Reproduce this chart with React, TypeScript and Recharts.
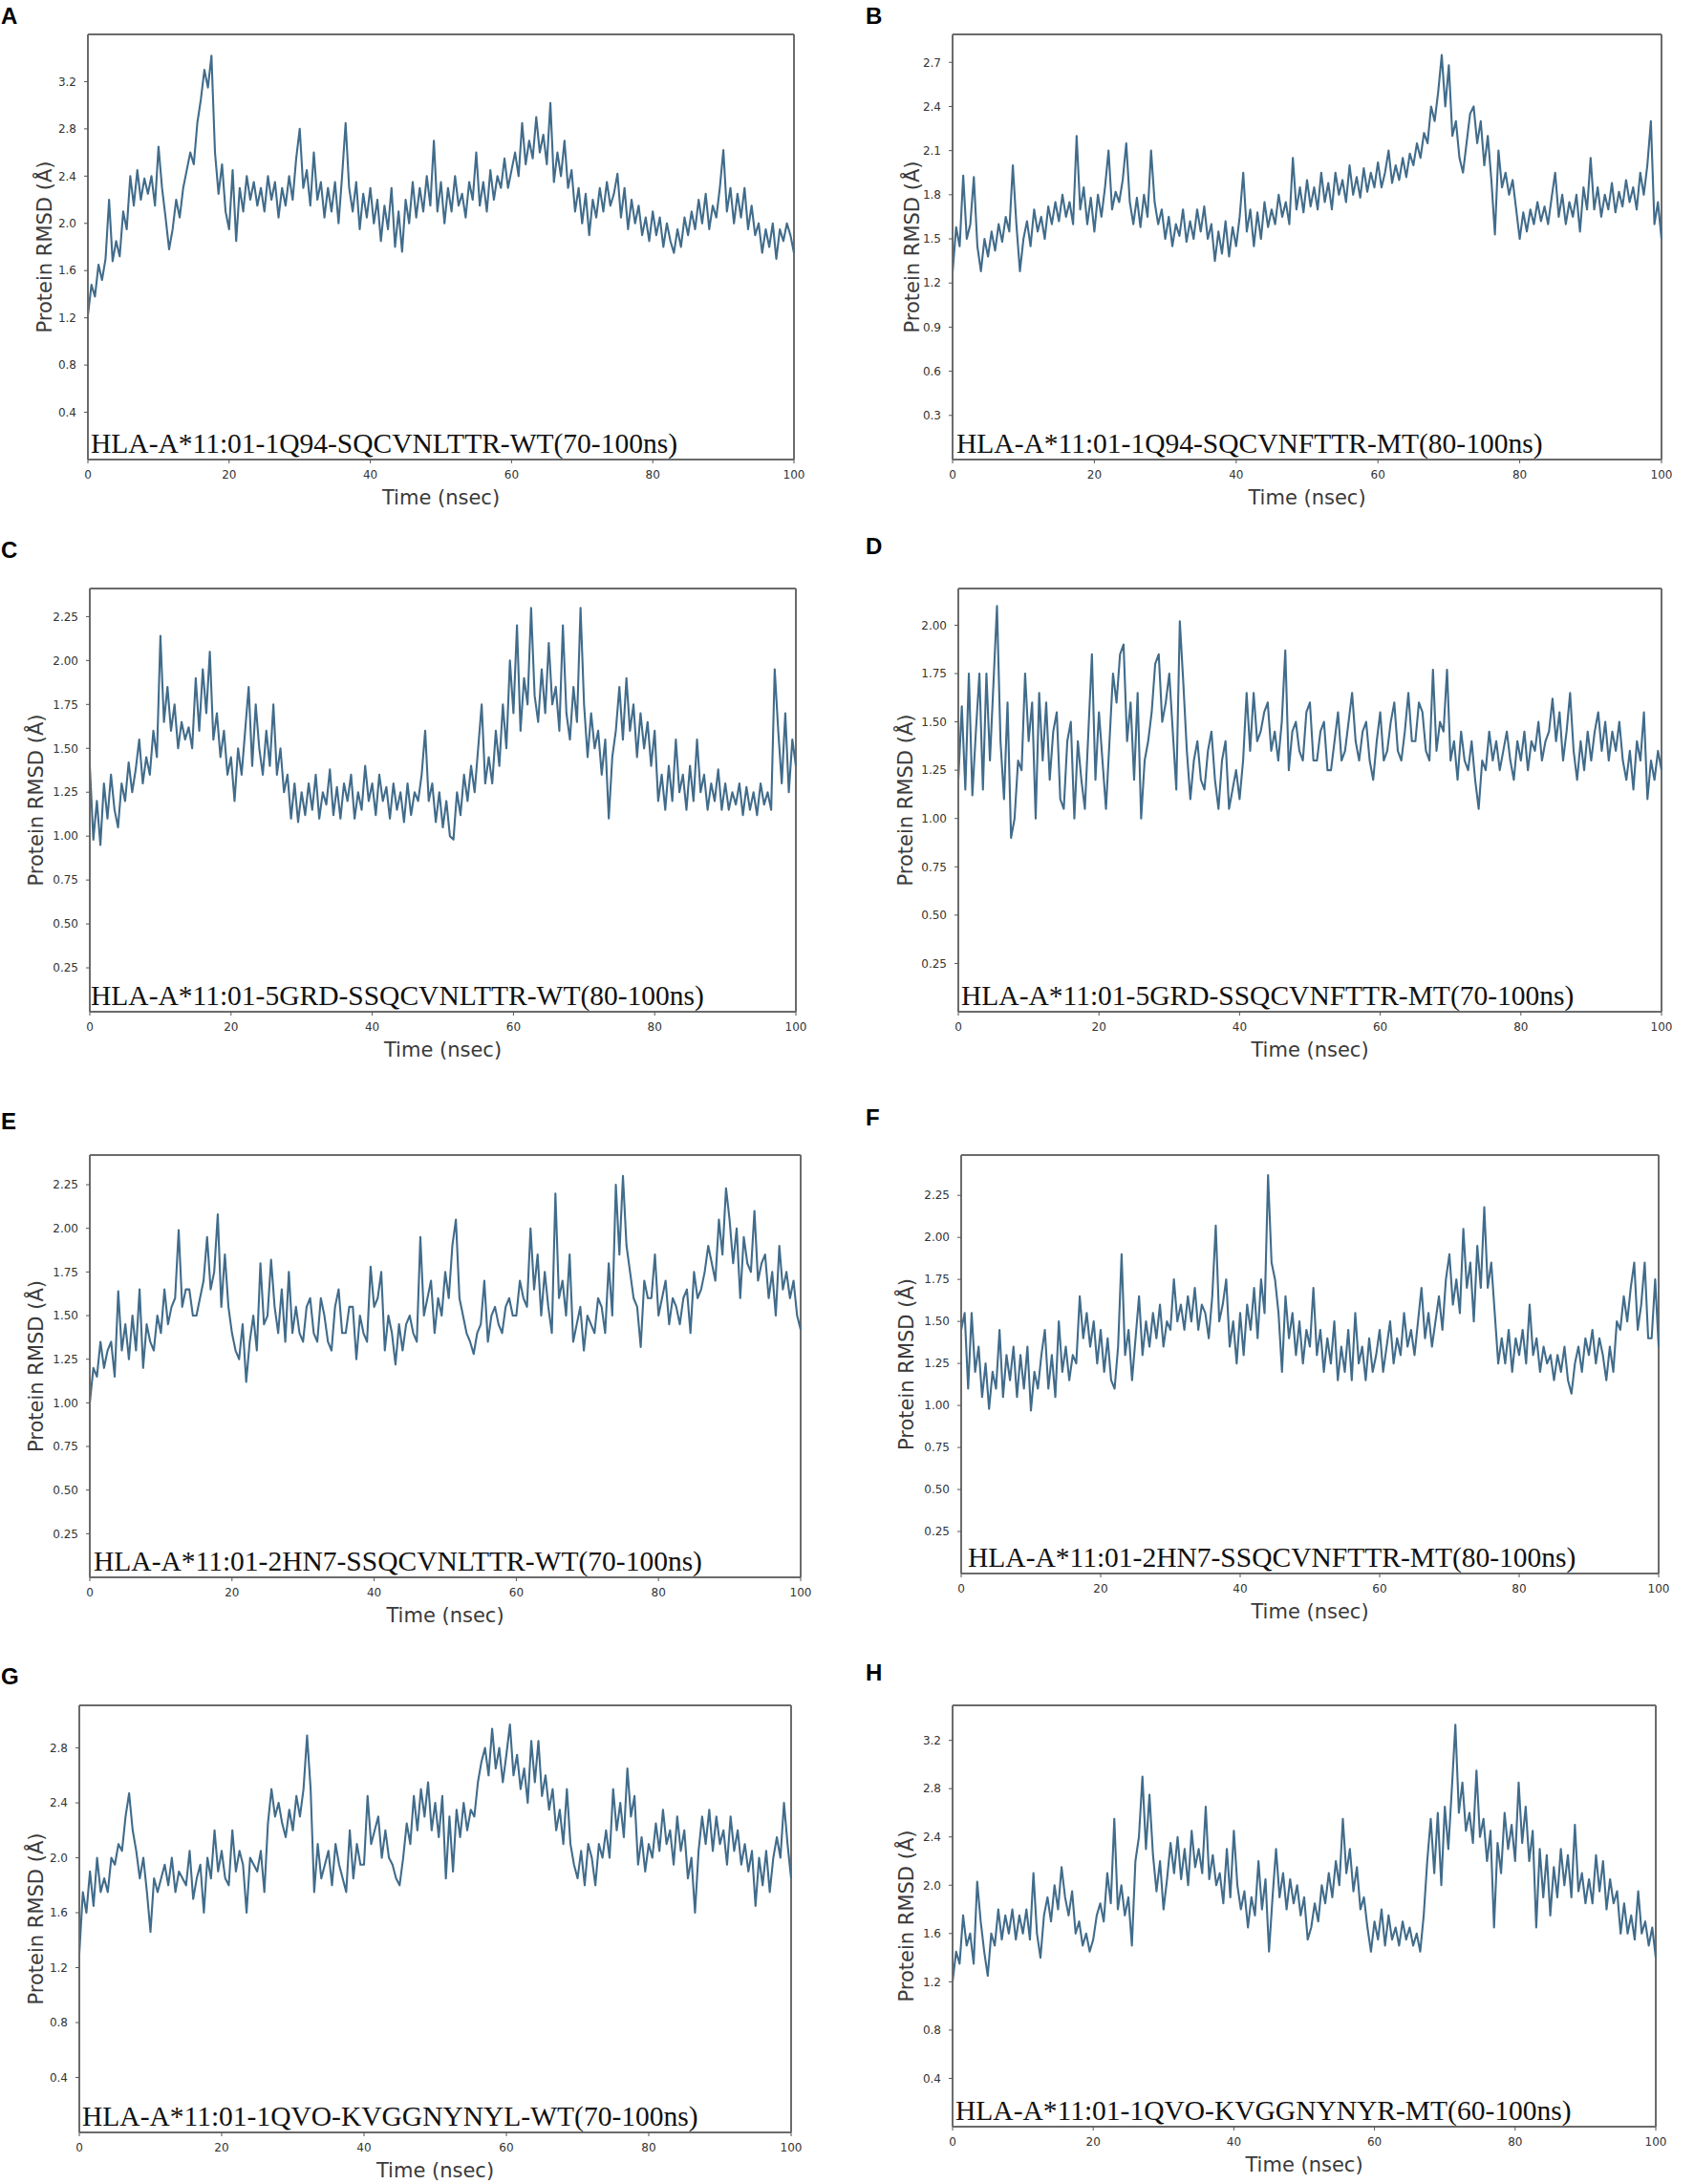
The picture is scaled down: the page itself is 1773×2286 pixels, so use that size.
import React from 'react';
import { LineChart, Line, XAxis, YAxis, ReferenceLine } from 'recharts';

// ---------- data ----------
const times = [0,0.5,1,1.5,2,2.5,3,3.5,4,4.5,5,5.5,6,6.5,7,7.5,8,8.5,9,9.5,10,10.5,11,11.5,12,12.5,13,13.5,14,14.5,15,15.5,16,16.5,17,17.5,18,18.5,19,19.5,20,20.5,21,21.5,22,22.5,23,23.5,24,24.5,25,25.5,26,26.5,27,27.5,28,28.5,29,29.5,30,30.5,31,31.5,32,32.5,33,33.5,34,34.5,35,35.5,36,36.5,37,37.5,38,38.5,39,39.5,40,40.5,41,41.5,42,42.5,43,43.5,44,44.5,45,45.5,46,46.5,47,47.5,48,48.5,49,49.5,50,50.5,51,51.5,52,52.5,53,53.5,54,54.5,55,55.5,56,56.5,57,57.5,58,58.5,59,59.5,60,60.5,61,61.5,62,62.5,63,63.5,64,64.5,65,65.5,66,66.5,67,67.5,68,68.5,69,69.5,70,70.5,71,71.5,72,72.5,73,73.5,74,74.5,75,75.5,76,76.5,77,77.5,78,78.5,79,79.5,80,80.5,81,81.5,82,82.5,83,83.5,84,84.5,85,85.5,86,86.5,87,87.5,88,88.5,89,89.5,90,90.5,91,91.5,92,92.5,93,93.5,94,94.5,95,95.5,96,96.5,97,97.5,98,98.5,99,99.5,100];

const rmsdA = [
  1.22,1.48,1.38,1.65,1.52,1.7,2.2,1.68,1.85,1.72,
  2.1,1.95,2.4,2.15,2.45,2.2,2.38,2.25,2.4,2.15,
  2.65,2.3,2.05,1.78,1.95,2.2,2.05,2.3,2.45,2.6,
  2.5,2.85,3.05,3.3,3.15,3.42,2.6,2.25,2.5,2.1,
  1.95,2.45,1.85,2.3,2.1,2.4,2.2,2.35,2.15,2.3,
  2.1,2.4,2.2,2.35,2.05,2.3,2.15,2.4,2.2,2.55,
  2.8,2.3,2.45,2.15,2.6,2.2,2.35,2.05,2.3,2.1,
  2.35,2.0,2.4,2.85,2.3,2.1,2.35,1.95,2.25,2.05,
  2.3,2.0,2.2,1.85,2.15,1.95,2.3,1.8,2.1,1.76,
  2.2,2.0,2.35,2.05,2.3,2.1,2.4,2.15,2.7,2.1,
  2.35,2.0,2.3,2.1,2.4,2.15,2.25,2.05,2.35,2.2,
  2.6,2.15,2.35,2.1,2.45,2.2,2.4,2.3,2.55,2.3,
  2.45,2.6,2.4,2.85,2.5,2.7,2.55,2.9,2.6,2.75,
  2.5,3.02,2.35,2.6,2.4,2.7,2.3,2.45,2.1,2.3,
  2.0,2.25,1.9,2.2,2.05,2.3,2.1,2.35,2.15,2.25,
  2.42,2.05,2.3,1.95,2.2,2.0,2.15,1.9,2.05,1.85,
  2.1,1.9,2.05,1.8,2.0,1.85,1.75,1.95,1.8,2.05,
  1.9,2.1,1.95,2.2,2.0,2.25,1.95,2.15,2.05,2.3,
  2.62,2.1,2.3,2.0,2.25,2.05,2.3,1.95,2.15,1.9,
  2.0,1.75,1.95,1.8,2.0,1.7,1.95,1.85,2.0,1.9,
  1.75,
];

const rmsdB = [
  1.27,1.58,1.45,1.93,1.5,1.6,1.92,1.45,1.28,1.5,
  1.38,1.55,1.42,1.6,1.48,1.65,1.55,2.0,1.6,1.28,
  1.5,1.62,1.45,1.7,1.55,1.65,1.5,1.72,1.6,1.75,
  1.62,1.8,1.65,1.75,1.6,2.2,1.7,1.85,1.6,1.78,
  1.55,1.8,1.65,1.85,2.1,1.7,1.82,1.75,1.9,2.15,
  1.75,1.6,1.78,1.58,1.8,1.65,2.1,1.75,1.6,1.7,
  1.5,1.65,1.45,1.6,1.52,1.7,1.48,1.62,1.5,1.7,
  1.55,1.72,1.5,1.6,1.35,1.55,1.4,1.62,1.38,1.58,
  1.45,1.65,1.95,1.55,1.7,1.45,1.68,1.5,1.75,1.58,
  1.7,1.6,1.8,1.65,1.75,1.6,2.05,1.7,1.85,1.68,
  1.9,1.72,1.85,1.7,1.95,1.75,1.88,1.7,1.95,1.8,
  1.9,1.75,2.0,1.8,1.92,1.78,1.98,1.82,1.95,1.85,
  2.02,1.85,1.95,2.1,1.88,2.0,1.9,2.05,1.92,2.08,
  2.0,2.15,2.05,2.22,2.15,2.4,2.3,2.5,2.75,2.4,
  2.68,2.2,2.3,2.05,1.95,2.15,2.35,2.4,2.15,2.3,
  2.0,2.2,1.9,1.53,2.1,1.85,1.95,1.8,1.9,1.7,
  1.5,1.68,1.55,1.7,1.6,1.75,1.62,1.72,1.6,1.78,
  1.95,1.65,1.8,1.6,1.75,1.65,1.8,1.55,1.85,1.7,
  2.05,1.7,1.85,1.65,1.8,1.7,1.88,1.68,1.82,1.72,
  1.9,1.75,1.85,1.7,1.95,1.8,2.0,2.3,1.6,1.75,
  1.5,
];

const rmsdC = [
  1.4,0.98,1.2,0.95,1.3,1.1,1.35,1.15,1.05,1.3,
  1.2,1.42,1.25,1.38,1.55,1.3,1.45,1.35,1.6,1.45,
  2.14,1.65,1.85,1.6,1.75,1.5,1.65,1.55,1.62,1.5,
  1.9,1.6,1.95,1.7,2.05,1.55,1.7,1.45,1.6,1.35,
  1.45,1.2,1.5,1.35,1.6,1.85,1.4,1.75,1.5,1.35,
  1.6,1.4,1.75,1.35,1.5,1.25,1.35,1.1,1.3,1.08,
  1.25,1.12,1.3,1.15,1.35,1.1,1.25,1.18,1.38,1.12,
  1.28,1.1,1.3,1.2,1.35,1.1,1.25,1.15,1.4,1.2,
  1.3,1.12,1.35,1.2,1.28,1.1,1.3,1.15,1.25,1.08,
  1.3,1.12,1.25,1.2,1.35,1.6,1.2,1.3,1.08,1.25,
  1.05,1.2,1.0,0.98,1.25,1.12,1.35,1.2,1.4,1.25,
  1.5,1.75,1.3,1.45,1.3,1.6,1.4,1.75,1.5,2.0,
  1.7,2.2,1.6,1.9,1.75,2.3,1.8,1.65,1.95,1.7,
  2.1,1.75,1.85,1.6,2.2,1.7,1.55,1.85,1.65,2.3,
  1.75,1.45,1.7,1.5,1.6,1.35,1.55,1.1,1.45,1.6,
  1.85,1.55,1.9,1.6,1.75,1.45,1.7,1.5,1.65,1.4,
  1.6,1.2,1.35,1.15,1.4,1.2,1.55,1.25,1.35,1.15,
  1.4,1.2,1.55,1.25,1.35,1.15,1.3,1.2,1.38,1.15,
  1.3,1.15,1.25,1.18,1.3,1.12,1.28,1.15,1.25,1.12,
  1.3,1.18,1.25,1.15,1.95,1.6,1.3,1.7,1.25,1.55,
  1.4,
];

const rmsdD = [
  1.2,1.58,1.15,1.75,1.12,1.45,1.75,1.15,1.75,1.3,
  1.7,2.1,1.4,1.1,1.6,0.9,1.0,1.3,1.25,1.75,
  1.4,1.6,1.0,1.65,1.3,1.6,1.2,1.45,1.55,1.1,
  1.05,1.4,1.5,1.0,1.4,1.2,1.05,1.45,1.85,1.2,
  1.55,1.3,1.05,1.4,1.75,1.6,1.85,1.9,1.4,1.6,
  1.2,1.65,1.0,1.3,1.4,1.55,1.8,1.85,1.5,1.6,
  1.75,1.45,1.15,2.02,1.7,1.35,1.1,1.3,1.4,1.2,
  1.15,1.35,1.45,1.2,1.05,1.3,1.4,1.05,1.15,1.25,
  1.1,1.3,1.65,1.35,1.65,1.4,1.45,1.55,1.6,1.35,
  1.45,1.3,1.5,1.87,1.25,1.45,1.5,1.35,1.3,1.55,
  1.6,1.3,1.3,1.45,1.5,1.25,1.25,1.4,1.55,1.3,
  1.35,1.5,1.65,1.4,1.3,1.45,1.5,1.3,1.2,1.4,
  1.55,1.3,1.35,1.5,1.6,1.35,1.3,1.45,1.65,1.4,
  1.4,1.6,1.55,1.35,1.3,1.77,1.35,1.5,1.45,1.77,
  1.3,1.4,1.2,1.45,1.3,1.25,1.4,1.2,1.05,1.3,
  1.25,1.45,1.3,1.4,1.25,1.35,1.45,1.3,1.2,1.4,
  1.3,1.45,1.25,1.4,1.35,1.5,1.3,1.4,1.45,1.62,
  1.4,1.55,1.3,1.45,1.65,1.35,1.2,1.4,1.25,1.45,
  1.3,1.45,1.55,1.35,1.5,1.3,1.45,1.35,1.5,1.3,
  1.2,1.35,1.15,1.4,1.3,1.55,1.1,1.3,1.2,1.35,
  1.25,
];

const rmsdE = [
  1.0,1.2,1.15,1.35,1.2,1.3,1.35,1.15,1.64,1.3,
  1.45,1.25,1.5,1.3,1.65,1.2,1.45,1.35,1.3,1.5,
  1.4,1.65,1.45,1.55,1.6,1.99,1.55,1.65,1.65,1.5,
  1.5,1.6,1.7,1.95,1.65,1.75,2.08,1.55,1.85,1.55,
  1.4,1.3,1.25,1.45,1.12,1.35,1.5,1.3,1.8,1.45,
  1.5,1.82,1.55,1.4,1.65,1.35,1.75,1.4,1.55,1.4,
  1.35,1.55,1.6,1.4,1.35,1.6,1.5,1.35,1.3,1.55,
  1.65,1.4,1.4,1.55,1.55,1.25,1.5,1.4,1.35,1.78,
  1.55,1.6,1.75,1.3,1.5,1.4,1.22,1.45,1.3,1.45,
  1.5,1.4,1.35,1.95,1.5,1.6,1.7,1.4,1.6,1.5,
  1.75,1.6,1.9,2.05,1.6,1.5,1.4,1.35,1.28,1.4,
  1.45,1.7,1.35,1.5,1.55,1.45,1.4,1.55,1.6,1.5,
  1.5,1.7,1.6,1.55,2.0,1.65,1.85,1.5,1.75,1.55,
  1.4,2.2,1.6,1.7,1.5,1.85,1.35,1.45,1.55,1.3,
  1.5,1.45,1.4,1.6,1.55,1.4,1.8,1.5,2.25,1.85,
  2.3,1.9,1.75,1.6,1.55,1.32,1.7,1.6,1.6,1.85,
  1.5,1.6,1.7,1.45,1.6,1.55,1.45,1.6,1.65,1.4,
  1.75,1.6,1.65,1.75,1.9,1.8,1.7,2.05,1.85,2.23,
  2.05,1.8,2.0,1.6,1.95,1.8,1.75,2.1,1.7,1.8,
  1.85,1.6,1.75,1.5,1.9,1.65,1.75,1.6,1.7,1.5,
  1.42,
];

const rmsdF = [
  1.45,1.55,1.1,1.55,1.2,1.35,1.05,1.25,0.98,1.2,
  1.1,1.45,1.05,1.3,1.15,1.35,1.05,1.3,1.1,1.35,
  0.97,1.2,1.1,1.3,1.45,1.1,1.3,1.05,1.5,1.2,
  1.35,1.15,1.3,1.25,1.65,1.4,1.55,1.35,1.5,1.25,
  1.45,1.2,1.4,1.15,1.1,1.35,1.9,1.3,1.45,1.15,
  1.4,1.65,1.3,1.5,1.35,1.55,1.4,1.6,1.35,1.5,
  1.45,1.75,1.5,1.6,1.45,1.65,1.5,1.7,1.45,1.6,
  1.55,1.4,1.65,2.07,1.5,1.6,1.75,1.35,1.5,1.25,
  1.55,1.3,1.6,1.45,1.7,1.4,1.75,1.55,2.37,1.85,
  1.75,1.55,1.2,1.65,1.4,1.55,1.3,1.5,1.25,1.45,
  1.35,1.7,1.3,1.45,1.2,1.4,1.25,1.5,1.15,1.35,
  1.2,1.45,1.15,1.55,1.25,1.35,1.15,1.4,1.2,1.3,
  1.45,1.2,1.35,1.5,1.25,1.4,1.3,1.55,1.35,1.45,
  1.3,1.5,1.7,1.4,1.55,1.35,1.5,1.65,1.45,1.75,
  1.9,1.6,1.75,1.55,2.05,1.7,1.85,1.5,1.95,1.7,
  2.18,1.7,1.85,1.55,1.25,1.4,1.25,1.45,1.2,1.4,
  1.3,1.45,1.25,1.6,1.3,1.4,1.2,1.35,1.25,1.3,
  1.15,1.3,1.2,1.35,1.15,1.07,1.25,1.35,1.2,1.4,
  1.3,1.45,1.25,1.4,1.3,1.15,1.35,1.2,1.5,1.45,
  1.65,1.5,1.7,1.85,1.45,1.6,1.85,1.4,1.4,1.75,
  1.35,
];

const rmsdG = [
  1.3,1.75,1.6,1.9,1.65,2.0,1.75,1.85,1.75,2.0,
  1.95,2.1,2.05,2.3,2.47,2.2,2.05,1.85,2.0,1.75,
  1.46,1.85,1.75,1.85,1.95,1.8,2.0,1.75,1.9,1.85,
  1.8,2.05,1.7,1.85,1.95,1.6,2.0,1.85,2.2,1.9,
  2.05,1.85,1.8,2.2,1.9,2.05,1.95,1.6,2.0,1.95,
  1.9,2.05,1.75,2.25,2.5,2.3,2.4,2.25,2.15,2.35,
  2.2,2.45,2.3,2.5,2.89,2.5,1.75,2.1,1.85,1.95,
  2.05,1.8,2.1,1.95,1.85,1.75,2.2,1.85,2.1,1.95,
  1.95,2.45,2.1,2.2,2.3,2.0,2.2,2.0,1.95,1.85,
  1.8,2.0,2.25,2.1,2.45,2.2,2.5,2.3,2.55,2.2,
  2.4,2.15,2.45,1.85,2.3,1.9,2.35,2.15,2.4,2.2,
  2.35,2.3,2.55,2.7,2.8,2.6,2.94,2.65,2.8,2.55,
  2.75,2.97,2.6,2.75,2.5,2.65,2.4,2.85,2.55,2.85,
  2.45,2.6,2.35,2.5,2.2,2.35,2.1,2.5,2.1,1.95,
  1.85,2.05,1.8,2.1,2.0,1.8,2.1,2.0,2.2,2.0,
  2.5,2.2,2.4,2.15,2.65,2.3,2.45,1.95,2.15,1.9,
  2.1,2.0,2.25,2.05,2.35,2.1,2.2,1.95,2.3,2.05,
  2.2,1.85,2.0,1.6,2.05,2.3,2.1,2.35,2.05,2.3,
  2.1,2.2,1.95,2.3,2.05,2.2,1.95,2.1,1.9,2.05,
  1.65,2.0,1.8,2.05,1.75,2.0,2.15,2.0,2.4,2.1,
  1.85,
];

const rmsdH = [
  1.2,1.45,1.35,1.75,1.5,1.6,1.35,2.03,1.7,1.45,
  1.25,1.6,1.5,1.8,1.55,1.75,1.6,1.8,1.55,1.75,
  1.6,1.8,1.55,2.1,1.6,1.4,1.75,1.9,1.7,2.0,
  1.8,2.15,1.9,1.75,1.95,1.6,1.7,1.5,1.6,1.45,
  1.55,1.75,1.85,1.7,2.1,1.85,2.55,1.8,2.0,1.75,
  1.9,1.5,2.2,2.4,2.9,2.3,2.75,2.25,1.95,2.2,
  1.8,2.05,2.35,2.1,2.4,2.05,2.3,2.0,2.45,2.15,
  2.3,2.1,2.65,2.05,2.25,2.0,2.1,1.85,2.3,1.9,
  2.45,2.0,1.8,1.95,1.65,1.9,1.75,2.2,1.8,2.05,
  1.45,1.9,2.3,1.9,2.1,1.8,2.05,1.85,2.0,1.75,
  1.9,1.55,1.65,1.85,1.7,2.0,1.85,2.1,1.9,2.2,
  2.0,2.55,2.1,2.3,1.95,2.15,1.8,1.9,1.65,1.45,
  1.7,1.55,1.8,1.5,1.75,1.55,1.65,1.5,1.7,1.55,
  1.65,1.5,1.6,1.45,1.75,2.2,2.55,2.1,2.6,2.0,
  2.65,2.3,2.8,3.33,2.6,2.85,2.45,2.6,2.35,2.95,
  2.4,2.55,2.2,2.45,1.65,2.35,2.1,2.6,2.3,2.5,
  2.2,2.85,2.35,2.65,2.2,2.45,1.65,2.3,1.9,2.25,
  1.75,2.15,1.9,2.3,2.0,2.25,1.9,2.5,1.95,2.1,
  1.85,2.05,1.85,2.25,1.95,2.2,1.8,2.05,1.85,1.95,
  1.6,1.85,1.6,1.75,1.55,1.95,1.6,1.7,1.5,1.65,
  1.4,
];

const xTicks = [0, 20, 40, 60, 80, 100];
const ticksA = [0.4, 0.8, 1.2, 1.6, 2.0, 2.4, 2.8, 3.2];
const ticksB = [0.3, 0.6, 0.9, 1.2, 1.5, 1.8, 2.1, 2.4, 2.7];
const ticksQ = [0.25, 0.5, 0.75, 1.0, 1.25, 1.5, 1.75, 2.0, 2.25];
const ticksD = [0.25, 0.5, 0.75, 1.0, 1.25, 1.5, 1.75, 2.0];
const ticksG = [0.4, 0.8, 1.2, 1.6, 2.0, 2.4, 2.8];
const ticksH = [0.4, 0.8, 1.2, 1.6, 2.0, 2.4, 2.8, 3.2];

const letters = ['A', 'B', 'C', 'D', 'E', 'F', 'G', 'H'];
const titles = [
  'HLA-A*11:01-1Q94-SQCVNLTTR-WT(70-100ns)',
  'HLA-A*11:01-1Q94-SQCVNFTTR-MT(80-100ns)',
  'HLA-A*11:01-5GRD-SSQCVNLTTR-WT(80-100ns)',
  'HLA-A*11:01-5GRD-SSQCVNFTTR-MT(70-100ns)',
  'HLA-A*11:01-2HN7-SSQCVNLTTR-WT(70-100ns)',
  'HLA-A*11:01-2HN7-SSQCVNFTTR-MT(80-100ns)',
  'HLA-A*11:01-1QVO-KVGGNYNYL-WT(70-100ns)',
  'HLA-A*11:01-1QVO-KVGGNYNYR-MT(60-100ns)',
];
const seriesList = [rmsdA, rmsdB, rmsdC, rmsdD, rmsdE, rmsdF, rmsdG, rmsdH];
const tickList = [ticksA, ticksB, ticksQ, ticksD, ticksQ, ticksQ, ticksG, ticksH];
const yMaxList = [3.6, 2.89, 2.41, 2.19, 2.42, 2.49, 3.11, 3.49];
const decimalsList = [1, 1, 2, 2, 2, 2, 1, 1];

// ---------- layout (page pixels) ----------
const boxes = [
  { l: 92, r: 831, t: 36, b: 481, yl: 45, tx: 3, lx: 1, ly: 25 },
  { l: 997, r: 1739, t: 36, b: 481, yl: 42, tx: 4, lx: 906, ly: 25 },
  { l: 94, r: 833, t: 616, b: 1059, yl: 56, tx: 1, lx: 1, ly: 584 },
  { l: 1003, r: 1739, t: 616, b: 1059, yl: 55, tx: 3, lx: 906, ly: 580 },
  { l: 94, r: 838, t: 1209, b: 1651, yl: 56, tx: 4, lx: 1, ly: 1182 },
  { l: 1006, r: 1736, t: 1209, b: 1647, yl: 57, tx: 7, lx: 906, ly: 1178 },
  { l: 83, r: 828, t: 1785, b: 2232, yl: 45, tx: 3, lx: 1, ly: 1763 },
  { l: 997, r: 1733, t: 1785, b: 2226, yl: 48, tx: 3, lx: 906, ly: 1759 },
];

const SANS = "'DejaVu Sans', Verdana, sans-serif";
const FRAME = '#6b6b6b';
const LINE = '#416c8b';

const ML = 90;
const MT = 6;
const MR = 26;
const XH = 60;

function Panel({ idx }: { idx: number }) {
  const box = boxes[idx];
  const w = box.r - box.l;
  const h = box.b - box.t;
  const vals = seriesList[idx];
  const data = times.map((t, i) => ({ t, v: vals[i] }));
  const yMax = yMaxList[idx];
  const dec = decimalsList[idx];

  const yLabel = (props: any) => {
    const vb = props.viewBox;
    const x = vb.x + ML - box.yl;
    const y = vb.y + vb.height / 2;
    return (
      <text x={x} y={y} transform={`rotate(-90 ${x} ${y})`} textAnchor="middle" dominantBaseline="central"
        fontFamily={SANS} fontSize={21} fill="#3a3a3a">Protein RMSD (Å)</text>
    );
  };
  const xLabel = (props: any) => {
    const vb = props.viewBox;
    return (
      <text x={vb.x + vb.width / 2} y={vb.y + 47} textAnchor="middle"
        fontFamily={SANS} fontSize={21} fill="#3a3a3a">Time (nsec)</text>
    );
  };

  return (
    <div style={{ position: 'absolute', left: box.l - ML, top: box.t - MT }}>
      <LineChart width={ML + w + MR} height={MT + h + XH} data={data}
        margin={{ top: MT, right: MR, bottom: 0, left: 0 }}>
        <XAxis dataKey="t" type="number" domain={[0, 100]} ticks={xTicks} interval={0}
          height={XH} tickSize={4} tickMargin={7}
          axisLine={{ stroke: FRAME, strokeWidth: 2 }} tickLine={{ stroke: '#555' }}
          tick={{ fontSize: 12, fill: '#333', fontFamily: SANS }}
          label={{ content: xLabel }} />
        <YAxis type="number" domain={[0, yMax]} ticks={tickList[idx]} interval={0} allowDataOverflow
          width={ML} tickSize={4} tickMargin={8}
          axisLine={{ stroke: FRAME, strokeWidth: 2 }} tickLine={{ stroke: '#555' }}
          tick={{ fontSize: 12, fill: '#333', fontFamily: SANS }}
          tickFormatter={(v: number) => v.toFixed(dec)}
          label={{ content: yLabel }} />
        <ReferenceLine y={yMax} stroke={FRAME} strokeWidth={2} />
        <ReferenceLine x={100} stroke={FRAME} strokeWidth={2} />
        <Line type="linear" dataKey="v" stroke={LINE} strokeWidth={2.1} dot={false}
          isAnimationActive={false} strokeLinejoin="round" />
      </LineChart>
    </div>
  );
}

export default function App() {
  return (
    <div style={{ position: 'absolute', left: 0, top: 0, width: 1773, height: 2286, background: '#fff', overflow: 'hidden' }}>
      {letters.map((_, i) => <Panel key={i} idx={i} />)}
      <svg width={1773} height={2286} style={{ position: 'absolute', left: 0, top: 0, pointerEvents: 'none' }}>
        {letters.map((L, i) => (
          <text key={'l' + i} x={boxes[i].lx} y={boxes[i].ly} fontFamily="'Liberation Sans', Arial, sans-serif"
            fontWeight="bold" fontSize={24} fill="#000">{L}</text>
        ))}
        {titles.map((tt, i) => (
          <text key={'t' + i} x={boxes[i].l + boxes[i].tx} y={boxes[i].b - 7}
            fontFamily="'Liberation Serif', 'Times New Roman', serif" fontSize={29.5} fill="#111">{tt}</text>
        ))}
      </svg>
    </div>
  );
}
